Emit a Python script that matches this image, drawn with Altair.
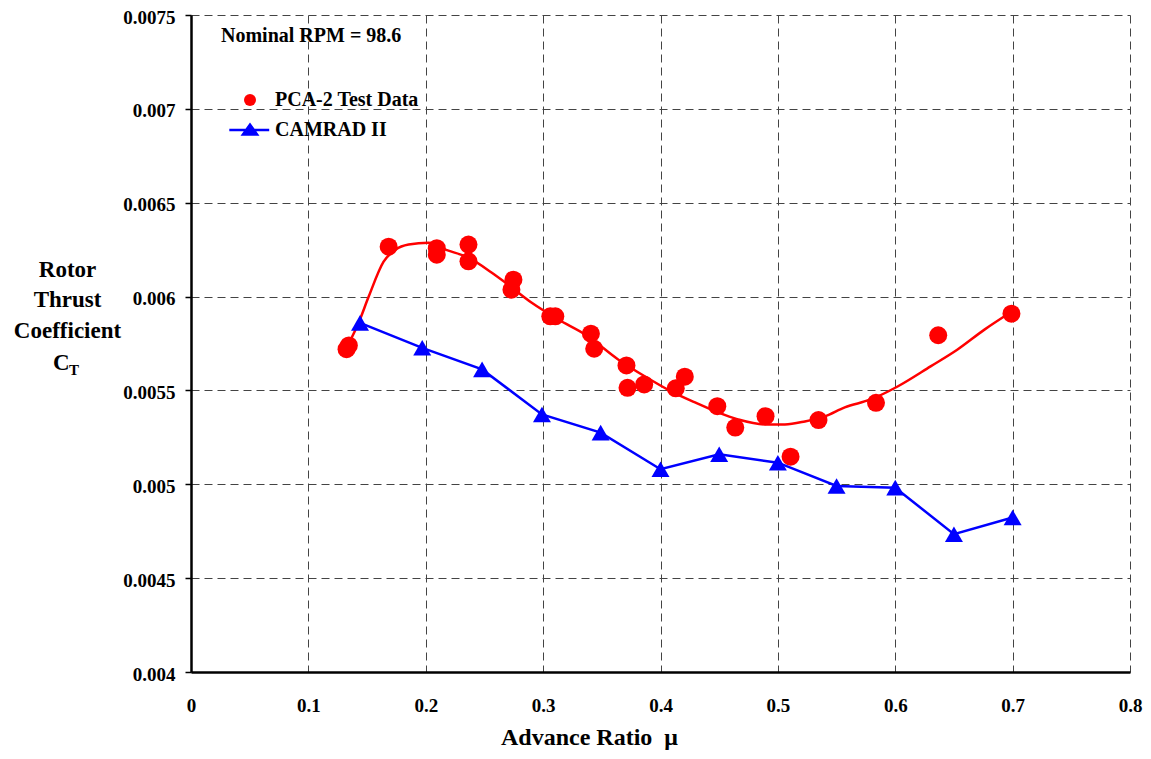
import altair as alt
import pandas as pd

# ---- data ----
mu_test = [0.1325, 0.1345, 0.1684, 0.2094, 0.2094, 0.2364, 0.2364, 0.2747, 0.2730,
           0.3061, 0.3104, 0.3407, 0.3435, 0.3710, 0.3719, 0.3861, 0.4130, 0.4207,
           0.4484, 0.4637, 0.4895, 0.5108, 0.5346, 0.5836, 0.6366, 0.6990]
ct_test = [0.005720, 0.005740, 0.006266, 0.006258, 0.006223, 0.006277, 0.006188, 0.006090,
           0.006037, 0.005895, 0.005895, 0.005802, 0.005722, 0.005633, 0.005514, 0.005532,
           0.005511, 0.005573, 0.005416, 0.005302, 0.005363, 0.005147, 0.005342, 0.005434,
           0.005794, 0.005909]

mu_fit = [0.1327, 0.1429, 0.1514, 0.1641, 0.1743, 0.1854, 0.2024, 0.2168, 0.2364, 0.2560,
          0.2679, 0.2900, 0.3129, 0.3359, 0.3639, 0.3869, 0.4090, 0.4294, 0.4490, 0.4660,
          0.4889, 0.5060, 0.5230, 0.5400, 0.5570, 0.5791, 0.6020, 0.6301, 0.6531, 0.6760,
          0.6981]
ct_fit = [0.005729, 0.005862, 0.006000, 0.006186, 0.006250, 0.006277, 0.006287, 0.006250,
          0.006207, 0.006128, 0.006074, 0.005968, 0.005878, 0.005798, 0.005665, 0.005574,
          0.005495, 0.005436, 0.005383, 0.005346, 0.005319, 0.005319, 0.005335, 0.005362,
          0.005410, 0.005452, 0.005521, 0.005628, 0.005718, 0.005824, 0.005915]

mu_cam = [0.144, 0.197, 0.248, 0.299, 0.349, 0.400, 0.450, 0.500, 0.550, 0.600, 0.650, 0.700]
ct_cam = [0.005860, 0.005727, 0.005612, 0.005372, 0.005275, 0.005080, 0.005160, 0.005115,
          0.004991, 0.004982, 0.004734, 0.004823]

series_names = ["PCA-2 Test Data", "CAMRAD II"]
series_colors = ["#ff0000", "#0000ff"]
x_ticks = [0, 0.1, 0.2, 0.3, 0.4, 0.5, 0.6, 0.7, 0.8]
y_ticks = [0.004, 0.0045, 0.005, 0.0055, 0.006, 0.0065, 0.007, 0.0075]
annotation = "Nominal RPM = 98.6"
y_title_lines = ["Rotor", "Thrust", "Coefficient"]
x_title = "Advance Ratio\u2002\u03bc"

test_df = pd.DataFrame({"mu": mu_test, "ct": ct_test})
fit_df = pd.DataFrame({"mu": mu_fit, "ct": ct_fit})
cam_df = pd.DataFrame({"mu": mu_cam, "ct": ct_cam})
legend_df = pd.DataFrame({"series": series_names})

FONT = "Liberation Serif"
W, H = 939, 657
LEFT = 183

x_scale = alt.Scale(domain=[0, 0.8], nice=False, zero=False)
y_scale = alt.Scale(domain=[0.004, 0.0075], nice=False, zero=False)

x_enc = alt.X("mu:Q", scale=x_scale, axis=alt.Axis(
    values=x_ticks, format=".1~f", title=x_title, ticks=False,
    labelPadding=39, labelBaseline="alphabetic",
    titleX=398, titleY=72, titleAlign="center", titleBaseline="alphabetic",
    titleFontSize=24))
y_enc = alt.Y("ct:Q", scale=y_scale, axis=alt.Axis(
    values=y_ticks, format=".4~f", title=y_title_lines, tickSize=6, labelPadding=10,
    labelOffset=2,
    titleAngle=0, titleAlign="center", titleBaseline="alphabetic",
    titleX=-124, titleY=261, titleLineHeight=30.5, titleFontSize=23))

fit_line = alt.Chart(fit_df).mark_line(color="#ff0000", strokeWidth=2.5,
                                       interpolate="monotone").encode(x=x_enc, y=y_enc)
test_pts = alt.Chart(test_df).mark_circle(color="#ff0000", size=324, opacity=1).encode(x=x_enc, y=y_enc)
cam_line = alt.Chart(cam_df).mark_line(color="#0000ff", strokeWidth=2.5).encode(x=x_enc, y=y_enc)
cam_pts = alt.Chart(cam_df).mark_point(shape="triangle-up", filled=True, size=324,
                                       color="#0000ff", opacity=1).encode(x=x_enc, y=y_enc)

TRI_PATH = ("M-3.45,-0.2H3.2V0.2H-3.45Z "
            "M-1.58,0.95L0,-1.27L1.58,0.95Z")
leg = dict(orient="none", legendX=49, legendY=75, title=None, labelFont=FONT,
           labelFontSize=20, labelFontWeight="bold", labelColor="black",
           symbolSize=144, symbolStrokeWidth=0, symbolOpacity=1, labelOffset=15,
           rowPadding=10, padding=0, labelLimit=0)
legend_layer = alt.Chart(legend_df).transform_filter("false").mark_point(
    filled=True, opacity=1).encode(
    color=alt.Color("series:N", scale=alt.Scale(domain=series_names, range=series_colors),
                    legend=alt.Legend(**leg)),
    shape=alt.Shape("series:N", scale=alt.Scale(domain=series_names, range=["circle", TRI_PATH]),
                    legend=alt.Legend(**leg)),
)

note = alt.Chart(pd.DataFrame({"t": [annotation]})).mark_text(
    align="left", baseline="alphabetic", font=FONT, fontSize=20, fontWeight="bold",
    color="black").encode(x=alt.value(30), y=alt.value(27), text="t:N")

c_text = alt.Chart(pd.DataFrame({"t": ["C"]})).mark_text(
    align="left", baseline="alphabetic", font=FONT, fontSize=23, fontWeight="bold",
    color="black").encode(x=alt.value(-138), y=alt.value(355), text="t:N")
t_text = alt.Chart(pd.DataFrame({"t": ["T"]})).mark_text(
    align="left", baseline="alphabetic", font=FONT, fontSize=15, fontWeight="bold",
    color="black").encode(x=alt.value(-122), y=alt.value(360), text="t:N")

chart = alt.layer(fit_line, test_pts, cam_line, cam_pts, legend_layer, note, c_text, t_text).properties(
    width=W, height=H,
    background="white",
    autosize=alt.AutoSizeParams(type="none"),
    padding={"left": LEFT, "top": 7, "right": 13, "bottom": 79},
).configure_view(stroke=None).configure_axis(
    labelFont=FONT, labelFontSize=19, labelFontWeight="bold", labelColor="black",
    titleFont=FONT, titleFontWeight="bold", titleColor="black",
    domainColor="black", domainWidth=2.5, tickColor="black", tickWidth=1.5,
    gridColor="#444444", gridDash=[8, 5], gridWidth=1, gridOpacity=1,
    labelOverlap=False, labelFlush=False,
)

chart.save("out.html", embed_options={"renderer": "svg", "actions": False})
